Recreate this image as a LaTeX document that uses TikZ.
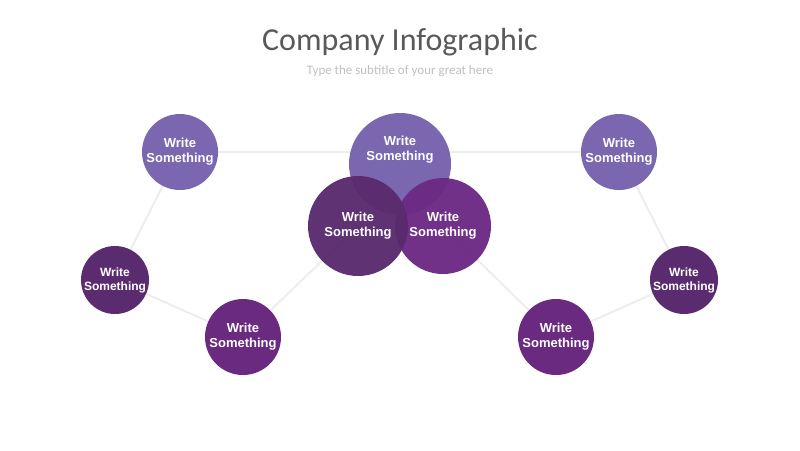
\documentclass[tikz,border=0pt]{standalone}
\usepackage{fontspec}
\setmainfont{Liberation Sans}
\newfontfamily\titlefont{Carlito}
\definecolor{lilac}{HTML}{7A67AF}
\definecolor{plum}{HTML}{6A2A80}
\definecolor{grape}{HTML}{5A2B6E}
\definecolor{wine}{HTML}{6C2A84}
\definecolor{linkgray}{HTML}{EDEDED}
\tikzset{
  bubble/.style={circle, draw=none, text=white, align=center, font=\bfseries\fontsize{13}{15}\selectfont, inner sep=0pt},
  link/.style={draw=linkgray, line width=2pt}
}
\begin{document}
\begin{tikzpicture}[x=1pt,y=-1pt]
\useasboundingbox (0,0) rectangle (800,450);
\node[font=\titlefont\fontsize{32}{36}\selectfont, text=black!65] (title) at (400,42) {Company Infographic};
\node[font=\titlefont\fontsize{13}{15}\selectfont, text=black!25] (sub) at (400,71) {Type the subtitle of your great here};

% connectors first, circles on top
\coordinate (ptl) at (180,152);
\coordinate (pml) at (115,280);
\coordinate (pbl) at (243,337);
\coordinate (ptc) at (400,164);
\coordinate (pcl) at (358,226);
\coordinate (pcr) at (443,226);
\coordinate (ptr) at (619,152);
\coordinate (pmr) at (684,280);
\coordinate (pbr) at (556,337);
\draw[link] (ptl) -- (400,152) -- (ptr);
\draw[link] (ptl) -- (pml) -- (pbl) -- (pcl);
\draw[link] (pcr) -- (pbr) -- (pmr) -- (ptr);

\node[bubble, fill=lilac, minimum size=76pt] (tl) at (ptl) {Write\\Something};
\node[bubble, fill=grape, minimum size=68pt, font=\bfseries\fontsize{12}{14}\selectfont] (ml) at (pml) {Write\\Something};
\node[bubble, fill=plum, minimum size=76pt] (bl) at (pbl) {Write\\Something};
\node[bubble, fill=lilac, minimum size=102pt] (tc) at (ptc) {};
\node[text=white, align=center, font=\bfseries\fontsize{13}{15}\selectfont] (tctext) at (400,150) {Write\\Something};
\node[bubble, fill=wine, fill opacity=0.97, text opacity=1, minimum size=96pt] (cr) at (pcr) {Write\\Something};
\node[bubble, fill=grape, fill opacity=0.97, text opacity=1, minimum size=100pt] (cl) at (pcl) {Write\\Something};
\node[bubble, fill=lilac, minimum size=76pt] (tr) at (ptr) {Write\\Something};
\node[bubble, fill=grape, minimum size=68pt, font=\bfseries\fontsize{12}{14}\selectfont] (mr) at (pmr) {Write\\Something};
\node[bubble, fill=plum, minimum size=76pt] (br) at (pbr) {Write\\Something};
\end{tikzpicture}
\end{document}
